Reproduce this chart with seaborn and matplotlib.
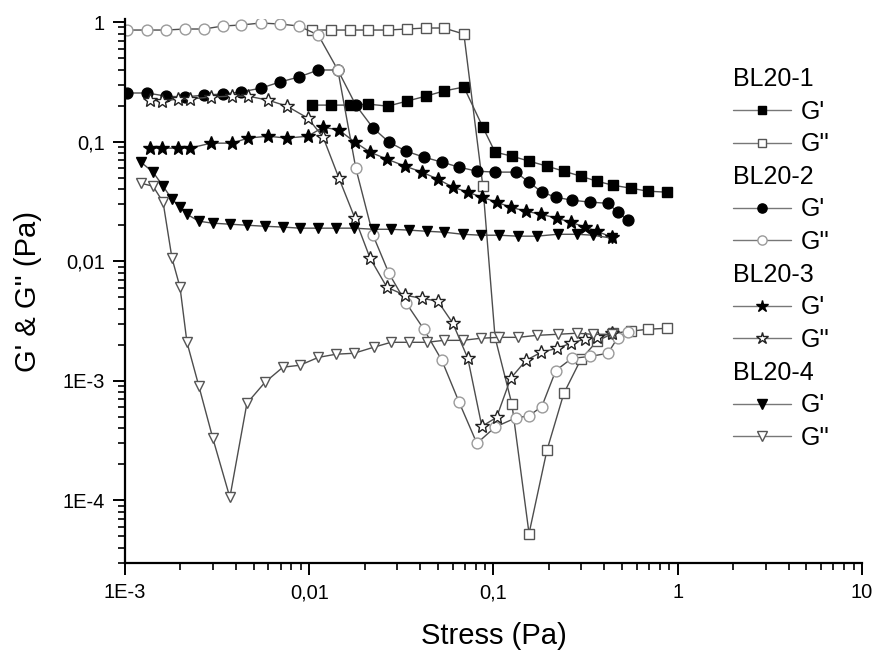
import numpy as np
import pandas as pd
import seaborn as sns
import matplotlib
matplotlib.use("Agg")
import matplotlib.pyplot as plt
from matplotlib.lines import Line2D
from matplotlib.ticker import LogLocator, NullFormatter

# ---------------- data ----------------
x1 = [0.0103, 0.0131, 0.0166, 0.0208, 0.0267, 0.0339, 0.0430, 0.0538, 0.0691, 0.0876,
      0.102, 0.126, 0.156, 0.195, 0.241, 0.298, 0.364, 0.445, 0.557, 0.688, 0.873]
g1_p = [0.202, 0.202, 0.202, 0.206, 0.198, 0.218, 0.240, 0.265, 0.286, 0.132,
        0.0817, 0.0756, 0.0687, 0.0624, 0.0566, 0.0514, 0.0467, 0.0432, 0.0408, 0.0385, 0.0378]
g1_pp = [0.857, 0.857, 0.857, 0.857, 0.857, 0.874, 0.891, 0.891, 0.793, 0.0424,
         0.00231, 0.000636, 0.0000529, 0.000262, 0.000786, 0.00151, 0.00214, 0.0025, 0.0026, 0.0027, 0.00275]

x2 = [0.00103, 0.00132, 0.00167, 0.00212, 0.00268, 0.0034, 0.00426, 0.00547, 0.00693, 0.00879,
      0.0112, 0.0143, 0.0179, 0.0222, 0.0271, 0.0335, 0.0419, 0.0525, 0.0649, 0.0813,
      0.102, 0.132, 0.156, 0.183, 0.218, 0.266, 0.334, 0.418, 0.473, 0.536]
g2_p = [0.255, 0.255, 0.240, 0.236, 0.245, 0.250, 0.260, 0.280, 0.315, 0.347,
        0.397, 0.397, 0.202, 0.130, 0.099, 0.0833, 0.0742, 0.0674, 0.0612, 0.0566,
        0.0556, 0.0556, 0.0458, 0.0378, 0.0343, 0.0324, 0.0312, 0.0305, 0.0257, 0.0220]
g2_pp = [0.857, 0.857, 0.857, 0.874, 0.874, 0.926, 0.944, 0.981, 0.962, 0.926,
         0.778, 0.397, 0.060, 0.0165, 0.0079, 0.0045, 0.0027, 0.00148, 0.00067, 0.0003,
         0.00041, 0.00049, 0.00051, 0.00061, 0.00122, 0.00154, 0.0016, 0.0017, 0.0023, 0.00255]

x3 = [0.00137, 0.00159, 0.00194, 0.00225, 0.00293, 0.00381, 0.00465, 0.00597, 0.00757, 0.00984,
      0.0119, 0.0145, 0.0177, 0.0214, 0.0264, 0.0331, 0.0409, 0.0499, 0.0602, 0.0726,
      0.0865, 0.104, 0.124, 0.150, 0.181, 0.221, 0.263, 0.313, 0.364, 0.439]
g3_p = [0.0882, 0.0882, 0.0882, 0.0882, 0.0971, 0.0971, 0.107, 0.111, 0.107, 0.111,
        0.132, 0.125, 0.099, 0.0817, 0.0714, 0.0624, 0.0556, 0.0486, 0.0416, 0.0378,
        0.0343, 0.0312, 0.0283, 0.0262, 0.0247, 0.0229, 0.0212, 0.0193, 0.0178, 0.0159]
g3_pp = [0.2225, 0.218, 0.227, 0.227, 0.236, 0.240, 0.240, 0.2225, 0.198, 0.157,
         0.109, 0.0495, 0.0229, 0.0106, 0.00606, 0.00519, 0.0049, 0.00463, 0.00303, 0.00154,
         0.000416, 0.000495, 0.00105, 0.00148, 0.00173, 0.00187, 0.00206, 0.00223, 0.00231, 0.0025]

x4 = [0.00122, 0.00142, 0.00161, 0.0018, 0.00199, 0.00217, 0.00252, 0.0030, 0.00371, 0.00459,
      0.00575, 0.0072, 0.0089, 0.0112, 0.0140, 0.0175, 0.0224, 0.0278, 0.0348, 0.0435,
      0.0538, 0.0682, 0.0854, 0.107, 0.136, 0.172, 0.223, 0.284, 0.346, 0.439]
g4_p = [0.0674, 0.0556, 0.0424, 0.0330, 0.0283, 0.0247, 0.0216, 0.0208, 0.0204, 0.0200,
        0.0196, 0.0193, 0.0189, 0.0189, 0.0189, 0.0189, 0.0185, 0.0185, 0.0182, 0.0178,
        0.0175, 0.0168, 0.0165, 0.0165, 0.0162, 0.0162, 0.0168, 0.0168, 0.0165, 0.0156]
g4_pp = [0.0449, 0.0424, 0.0312, 0.0106, 0.00606, 0.0021, 0.0009, 0.00033, 0.000106, 0.000648,
         0.000971, 0.0013, 0.00135, 0.00157, 0.00167, 0.0017, 0.00191, 0.0021, 0.0021, 0.0021,
         0.00218, 0.00218, 0.00227, 0.00231, 0.00231, 0.0024, 0.00245, 0.0025, 0.00245, 0.00245]

samples = ["BL20-1", "BL20-2", "BL20-3", "BL20-4"]
x_ticks = [1e-3, 1e-2, 1e-1, 1, 10]
x_tick_labels = ["1E-3", "0,01", "0,1", "1", "10"]
y_ticks = [1e-4, 1e-3, 1e-2, 1e-1, 1]
y_tick_labels = ["1E-4", "1E-3", "0,01", "0,1", "1"]

# ---------------- style ----------------
sns.set_theme(style="ticks")
plt.rcParams["font.family"] = ["Liberation Sans", "DejaVu Sans"]
plt.rcParams["text.color"] = "black"

fig = plt.figure(figsize=(8.8, 6.56), dpi=100)
ax = fig.add_axes([0.142, 0.1418, 0.8375, 0.8285])
ax.set_xscale("log")
ax.set_yscale("log")

LINE = "#4d4d4d"
styles = [
    # (x, y, marker, ms, facecolor, edgecolor)
    (x1, g1_p, "s", 7.3, "black", "black"),
    (x1, g1_pp, "s", 7.3, "white", "#555555"),
    (x2, g2_p, "o", 7.8, "black", "black"),
    (x2, g2_pp, "o", 7.8, "white", "#9a9a9a"),
    (x3, g3_p, "*", 10.5, "black", "black"),
    (x3, g3_pp, "*", 10.5, "white", "#222222"),
    (x4, g4_p, "v", 7.8, "black", "black"),
    (x4, g4_pp, "v", 7.8, "white", "#555555"),
]

for x, y, m, ms, fc, ec in styles:
    sns.lineplot(x=x, y=y, ax=ax, estimator=None, sort=False, color=LINE,
                 linewidth=1.0, marker=m, markersize=ms, markerfacecolor=fc,
                 markeredgecolor=ec, markeredgewidth=1.0, legend=False)

ax.set_xlim(1e-3, 10)
ax.set_ylim(3e-5, 1.05)

ax.set_xticks(x_ticks, x_tick_labels)
ax.set_yticks(y_ticks, y_tick_labels)
for axis in (ax.xaxis, ax.yaxis):
    axis.set_minor_locator(LogLocator(base=10, subs=np.arange(2, 10), numticks=30))
    axis.set_minor_formatter(NullFormatter())

ax.tick_params(which="major", direction="out", length=8.5, width=1.4,
               labelsize=14.5, color="black", labelcolor="black", pad=6)
ax.tick_params(which="minor", direction="out", length=5, width=1.2, color="black")

for s in ("top", "right"):
    ax.spines[s].set_visible(False)
for s in ("left", "bottom"):
    ax.spines[s].set_linewidth(1.6)
    ax.spines[s].set_color("black")

ax.set_xlabel("Stress (Pa)", fontsize=21, color="black")
ax.set_ylabel("G' & G'' (Pa)", fontsize=21, color="black")
ax.xaxis.set_label_coords(0.5, -0.108)
ax.yaxis.set_label_coords(-0.112, 0.5)

# ---------------- legend ----------------
handles = []
labels = []
for i, name in enumerate(samples):
    handles.append(Line2D([], [], linestyle="none"))
    labels.append(name)
    for x, y, m, ms, fc, ec in styles[2 * i: 2 * i + 2]:
        handles.append(Line2D([], [], color="#777777", linewidth=1.0, marker=m,
                              markersize=ms * 0.85, markerfacecolor=fc,
                              markeredgecolor=ec, markeredgewidth=1.0))
    labels.extend(["G'", "G''"])

leg = ax.legend(handles, labels, loc="upper left",
                bbox_to_anchor=(733 / 880, 1 - 67 / 656),
                bbox_transform=fig.transFigure, frameon=False, fontsize=18,
                borderpad=0, borderaxespad=0, handlelength=2.3,
                handletextpad=0.4, labelspacing=0.345)
for t in leg.get_texts():
    t.set_color("black")
for col in leg._legend_handle_box.get_children():
    for row in col.get_children():
        da, ta = row.get_children()
        if ta.get_text().startswith("BL"):
            da.width = 0
            row.sep = 0

fig.savefig("out.png", dpi=100, facecolor="white")
